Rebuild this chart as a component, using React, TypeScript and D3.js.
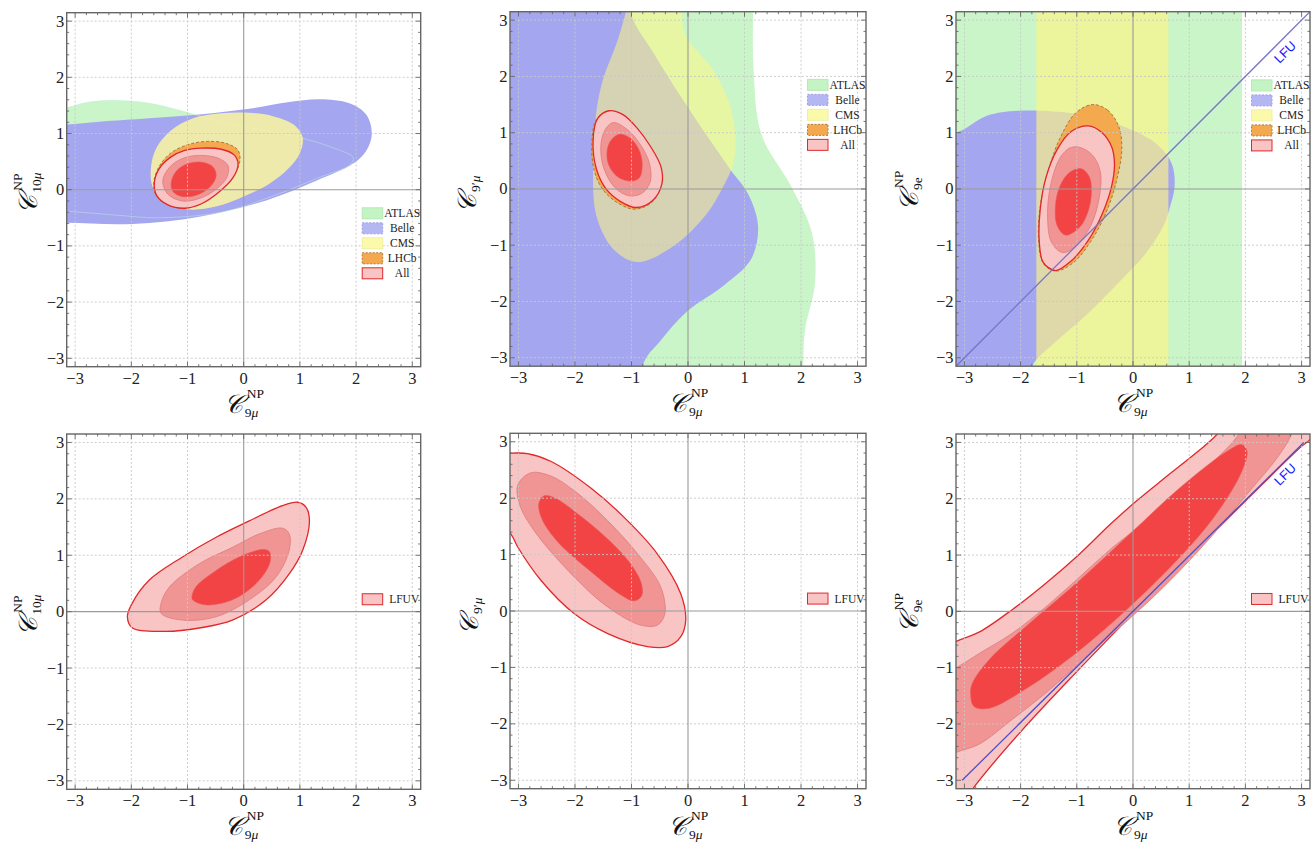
import React from 'react';
import * as d3 from 'd3';

type Pt = [number, number];

// ---------- axes / labels ----------
const DOMAIN: [number, number] = [-3.15, 3.15];
const majorTicks = [-3, -2, -1, 0, 1, 2, 3];
const minorTicks = d3.range(-30, 31, 2).map((v) => v / 10).filter((v) => Math.abs(v - Math.round(v)) > 1e-6);
const expLegend = ['ATLAS', 'Belle', 'CMS', 'LHCb', 'All'];
const lfuvLegend = ['LFUV'];
const lfuText = 'LFU';

// ---------- panel 1 : C9mu vs C10mu (experiments) ----------
const p1Atlas: Pt[] = [[-4, 1.4], [-3.16, 1.46], [-2.8, 1.55], [-2.39, 1.59], [-1.68, 1.54], [-1.09, 1.4], [-0.67, 1.28], [-0.2, 1.16], [0.4, 1.05], [0.99, 0.93], [1.58, 0.75], [1.95, 0.57], [1.9, 0.45], [1.3, 0.2], [0.5, -0.12], [-0.4, -0.4], [-1.5, -0.5], [-2.3, -0.45], [-3.16, -0.38], [-4, -0.33]];
const p1Belle: Pt[] = [[-4, 1.13], [-3.16, 1.16], [-2.57, 1.21], [-1.68, 1.27], [-0.79, 1.34], [0.1, 1.44], [0.81, 1.56], [1.35, 1.61], [1.88, 1.54], [2.18, 1.34], [2.28, 0.99], [2.18, 0.69], [1.94, 0.46], [1.29, 0.16], [0.4, -0.19], [-0.79, -0.48], [-1.98, -0.61], [-3.16, -0.59], [-4, -0.57]];
const p1Cms: Pt[] = [[-1.65, 0.4], [-1.55, 0.75], [-1.3, 1.05], [-0.9, 1.27], [-0.4, 1.36], [0.1, 1.37], [0.55, 1.3], [0.9, 1.15], [1.05, 0.93], [1.0, 0.65], [0.8, 0.38], [0.45, 0.1], [0.0, -0.12], [-0.5, -0.3], [-1.0, -0.35], [-1.4, -0.22], [-1.62, 0.05]];
const p1Lhcb: Pt[] = [[-1.6, 0.13], [-1.5, 0.42], [-1.3, 0.65], [-1.0, 0.8], [-0.65, 0.86], [-0.3, 0.82], [-0.1, 0.7], [-0.07, 0.5], [-0.2, 0.22], [-0.45, -0.04], [-0.75, -0.24], [-1.05, -0.33], [-1.35, -0.27], [-1.56, -0.1]];
const p1All1: Pt[] = [[-1.59, 0.13], [-1.5, 0.38], [-1.3, 0.58], [-1.05, 0.7], [-0.75, 0.74], [-0.4, 0.72], [-0.17, 0.62], [-0.1, 0.45], [-0.2, 0.2], [-0.45, -0.05], [-0.75, -0.25], [-1.05, -0.33], [-1.35, -0.27], [-1.55, -0.1]];
const p1All2: Pt[] = [[-1.44, 0.16], [-1.3, 0.42], [-1.05, 0.57], [-0.75, 0.61], [-0.45, 0.56], [-0.28, 0.43], [-0.3, 0.22], [-0.5, 0.0], [-0.8, -0.16], [-1.1, -0.2], [-1.35, -0.08]];
const p1All3: Pt[] = [[-1.29, 0.13], [-1.2, 0.33], [-1.0, 0.46], [-0.75, 0.49], [-0.55, 0.41], [-0.49, 0.25], [-0.6, 0.05], [-0.85, -0.1], [-1.1, -0.12], [-1.26, -0.03]];

// ---------- panel 2 : C9mu vs C9'mu (experiments) ----------
const p2Atlas: Pt[] = [[-4, 4], [1.15, 4], [1.15, 3.15], [1.16, 2.14], [1.3, 0.97], [1.83, 0.04], [2.19, -0.77], [2.25, -1.65], [2.07, -2.52], [2.04, -3.15], [2.04, -4], [-4, -4]];
const p2Belle: Pt[] = [[-4, 4], [-1.0, 4], [-1.02, 3.15], [-0.6, 2.4], [-0.1, 1.6], [0.4, 0.85], [0.76, 0.33], [1.06, -0.08], [1.24, -0.66], [1.12, -1.24], [0.64, -1.71], [-0.01, -2.17], [-0.49, -2.7], [-0.78, -3.08], [-0.9, -4], [-4, -4]];
const p2Cms: Pt[] = [[-1.1, 3.15], [-1.0, 3.7], [-0.2, 3.7], [-0.05, 2.75], [0.42, 2.15], [0.72, 1.56], [0.84, 0.95], [0.8, 0.45], [0.6, 0.0], [0.34, -0.43], [-0.25, -1.01], [-0.9, -1.3], [-1.32, -1.07], [-1.62, -0.48], [-1.68, 0.39], [-1.62, 1.38], [-1.5, 1.96], [-1.26, 2.6]];
const p2Lhcb: Pt[] = [[-1.42, 1.37], [-1.17, 1.3], [-0.92, 1.06], [-0.68, 0.72], [-0.5, 0.37], [-0.48, 0.07], [-0.64, -0.24], [-0.95, -0.36], [-1.24, -0.25], [-1.5, -0.02], [-1.66, 0.33], [-1.7, 0.84], [-1.62, 1.24]];
const p2All1: Pt[] = [[-1.4, 1.39], [-1.15, 1.32], [-0.9, 1.08], [-0.66, 0.75], [-0.48, 0.4], [-0.46, 0.1], [-0.62, -0.2], [-0.92, -0.33], [-1.2, -0.22], [-1.45, 0.0], [-1.62, 0.35], [-1.68, 0.85], [-1.6, 1.25]];
const p2All2: Pt[] = [[-1.32, 1.18], [-1.08, 1.06], [-0.85, 0.8], [-0.68, 0.45], [-0.67, 0.12], [-0.82, -0.08], [-1.05, -0.12], [-1.3, 0.03], [-1.5, 0.4], [-1.54, 0.8], [-1.45, 1.08]];
const p2All3: Pt[] = [[-1.22, 0.97], [-1.02, 0.9], [-0.86, 0.68], [-0.81, 0.42], [-0.86, 0.2], [-1.02, 0.14], [-1.25, 0.22], [-1.42, 0.48], [-1.4, 0.8]];

// ---------- panel 3 : C9mu vs C9e (experiments) ----------
const p3Atlas: Pt[] = [[-4, -4], [1.94, -4], [1.94, 4], [-4, 4]];
const p3Cms: Pt[] = [[-1.72, -4], [0.63, -4], [0.63, 4], [-1.72, 4]];
const p3Belle: Pt[] = [[-4, 0.97], [-3.15, 1.0], [-2.6, 1.3], [-2.03, 1.39], [-1.19, 1.36], [-0.66, 1.27], [-0.12, 1.09], [0.42, 0.8], [0.69, 0.45], [0.74, 0.04], [0.66, -0.31], [0.54, -0.66], [0.24, -1.13], [-0.24, -1.65], [-0.83, -2.24], [-1.37, -2.71], [-1.8, -3.15], [-2.0, -4], [-4, -4]];
const p3Lhcb: Pt[] = [[-0.72, 1.5], [-0.45, 1.4], [-0.25, 1.1], [-0.2, 0.7], [-0.28, 0.2], [-0.45, -0.35], [-0.7, -0.85], [-1.05, -1.3], [-1.38, -1.46], [-1.6, -1.32], [-1.68, -0.9], [-1.65, -0.3], [-1.5, 0.35], [-1.3, 0.9], [-1.02, 1.35]];
const p3All1: Pt[] = [[-0.8, 1.12], [-0.55, 1.0], [-0.38, 0.75], [-0.33, 0.45], [-0.38, 0.05], [-0.55, -0.45], [-0.8, -0.92], [-1.1, -1.28], [-1.38, -1.45], [-1.6, -1.3], [-1.67, -0.9], [-1.65, -0.35], [-1.55, 0.2], [-1.35, 0.7], [-1.1, 1.02]];
const p3All2: Pt[] = [[-0.95, 0.74], [-0.72, 0.6], [-0.58, 0.3], [-0.6, -0.15], [-0.75, -0.65], [-1.0, -1.0], [-1.25, -1.13], [-1.45, -0.95], [-1.52, -0.5], [-1.47, 0.05], [-1.3, 0.55], [-1.12, 0.73]];
const p3All3: Pt[] = [[-0.92, 0.36], [-0.78, 0.22], [-0.74, -0.05], [-0.8, -0.4], [-0.95, -0.68], [-1.2, -0.82], [-1.35, -0.65], [-1.38, -0.3], [-1.3, 0.05], [-1.12, 0.3]];

// ---------- panel 4 : LFUV C9mu vs C10mu ----------
const p4Lfuv1: Pt[] = [[-2.07, -0.09], [-1.98, -0.29], [-1.38, -0.35], [-0.79, -0.29], [-0.2, -0.15], [0.4, 0.21], [0.81, 0.67], [1.05, 1.09], [1.17, 1.61], [1.11, 1.85], [0.96, 1.94], [0.69, 1.88], [0.1, 1.61], [-0.49, 1.32], [-1.09, 0.97], [-1.68, 0.56], [-2.0, 0.12]];
const p4Lfuv2: Pt[] = [[-1.47, -0.03], [-1.09, -0.15], [-0.49, -0.09], [0.1, 0.21], [0.58, 0.62], [0.81, 1.09], [0.81, 1.38], [0.69, 1.48], [0.28, 1.38], [-0.2, 1.14], [-0.79, 0.85], [-1.32, 0.44], [-1.47, 0.15]];
const p4Lfuv3: Pt[] = [[-0.91, 0.21], [-0.67, 0.12], [-0.2, 0.21], [0.22, 0.5], [0.46, 0.85], [0.46, 1.06], [0.34, 1.1], [-0.08, 0.97], [-0.49, 0.73], [-0.85, 0.44], [-0.92, 0.27]];

// ---------- panel 5 : LFUV C9mu vs C9'mu ----------
const p5Lfuv1: Pt[] = [[-3.6, 2.8], [-3.13, 2.8], [-2.84, 2.79], [-2.42, 2.65], [-1.72, 2.18], [-1.13, 1.66], [-0.54, 1.01], [-0.13, 0.31], [-0.04, -0.16], [-0.13, -0.46], [-0.36, -0.63], [-0.72, -0.63], [-1.42, -0.4], [-2.01, -0.05], [-2.6, 0.54], [-3.01, 1.13], [-3.13, 1.36], [-3.6, 1.9]];
const p5Lfuv2: Pt[] = [[-2.78, 2.45], [-2.42, 2.39], [-2.01, 2.13], [-1.42, 1.6], [-0.84, 0.95], [-0.48, 0.42], [-0.41, -0.05], [-0.54, -0.25], [-0.84, -0.25], [-1.42, 0.07], [-2.01, 0.6], [-2.72, 1.42], [-2.98, 1.89], [-3.01, 2.24]];
const p5Lfuv3: Pt[] = [[-2.55, 2.04], [-2.35, 2.0], [-1.95, 1.72], [-1.48, 1.33], [-1.05, 0.88], [-0.83, 0.5], [-0.82, 0.27], [-0.95, 0.18], [-1.18, 0.28], [-1.72, 0.7], [-2.3, 1.22], [-2.58, 1.62], [-2.64, 1.9]];

// ---------- panel 6 : LFUV C9mu vs C9e ----------
const p6Lfuv1: Pt[] = [[-4, -1.05], [-3.16, -0.54], [-2.74, -0.37], [-2.15, 0.03], [-1.55, 0.5], [-0.95, 1.02], [-0.4, 1.55], [0.05, 1.95], [0.54, 2.35], [1.13, 2.82], [1.5, 3.15], [1.9, 3.7], [3.7, 3.7], [3.15, 3.05], [3.0, 2.93], [2.0, 1.96], [1.0, 0.97], [0, -0.04], [-1.0, -1.07], [-2.0, -2.14], [-2.85, -3.15], [-3.2, -3.7], [-4, -3.7]];
const p6Lfuv2: Pt[] = [[-4, -1.45], [-3.16, -1.01], [-2.74, -0.75], [-2.15, -0.39], [-1.55, 0.08], [-0.95, 0.61], [-0.36, 1.14], [0.24, 1.61], [0.83, 2.14], [1.43, 2.66], [1.85, 3.1], [2.2, 3.7], [3.0, 3.7], [2.8, 3.1], [2.56, 2.72], [2.03, 2.08], [1.43, 1.37], [0.83, 0.72], [0.24, 0.14], [-0.36, -0.39], [-0.95, -0.92], [-1.55, -1.45], [-2.15, -1.92], [-2.74, -2.36], [-3.16, -2.51], [-4, -2.9]];
const p6Lfuv3: Pt[] = [[-2.89, -1.45], [-2.83, -1.69], [-2.56, -1.72], [-1.85, -1.34], [-0.95, -0.69], [-0.06, 0.08], [0.83, 0.96], [1.43, 1.66], [1.91, 2.43], [2.03, 2.84], [1.94, 2.96], [1.67, 2.84], [0.83, 2.19], [-0.06, 1.37], [-0.95, 0.55], [-1.85, -0.22], [-2.56, -0.86], [-2.86, -1.28]];

// LFU reference line (C9e = C9mu) end points
const lfuLineFull: Pt[] = [[-3.15, -3.15], [3.15, 3.15]];
const lfuLineShort: Pt[] = [[-3.04, -3.0], [3.04, 3.0]];
const lfuLabelPos: Pt = [2.72, 2.42];

// ---------- styles ----------
const C_ATLAS = '#c9f5c9';
const C_BELLE = '#a4a7ef';
const C_CMS = '#fff584';
const C_LHCB = '#f4a94f';
const C_ALL1 = '#f9c4c4';
const C_ALL2 = '#f19494';
const C_ALL3 = '#f24444';
const SERIF = "'Liberation Serif', 'DejaVu Serif', 'Times New Roman', serif";

interface Region {
  pts: Pt[];
  fill: string;
  opacity?: number;
  stroke?: string;
  sw?: number;
  dash?: string;
  linear?: boolean;
  noFill?: boolean;
}

interface PanelCfg {
  left: number;
  top: number;
  w: number;
  h: number;
  regions: Region[];
  yLabel: { sup?: string; sub: string };
  yLabelOff: number;
  legend: 'exp' | 'lfuv';
  legendY: number;
  lfuLine?: Pt[];
  lfuColor?: string;
}

const allLevels = (a: Pt[], b: Pt[], c: Pt[]): Region[] => [
  { pts: a, fill: C_ALL1, stroke: '#e0282a', sw: 1.3 },
  { pts: b, fill: C_ALL2, stroke: '#dd7c7c', sw: 0.8 },
  { pts: c, fill: C_ALL3, stroke: '#e45a5a', sw: 0.6 },
];

const panels: PanelCfg[] = [
  {
    left: 66.7, top: 12.7, w: 354, h: 354,
    regions: [
      { pts: p1Atlas, fill: C_ATLAS },
      { pts: p1Belle, fill: C_BELLE },
      { pts: p1Atlas, fill: 'none', noFill: true, stroke: '#c6eedc', sw: 1, opacity: 0.45 },
      { pts: p1Cms, fill: '#fbf6a0', opacity: 0.85 },
      { pts: p1Lhcb, fill: C_LHCB, stroke: '#a9773f', sw: 1, dash: '3,2' },
      ...allLevels(p1All1, p1All2, p1All3),
    ],
    yLabel: { sup: 'NP', sub: '10' },
    yLabelOff: 30,
    legend: 'exp',
    legendY: -0.42,
  },
  {
    left: 510, top: 11.7, w: 356, h: 354.5,
    regions: [
      { pts: p2Atlas, fill: C_ATLAS },
      { pts: p2Belle, fill: C_BELLE },
      { pts: p2Cms, fill: C_CMS, opacity: 0.55 },
      { pts: p2Lhcb, fill: C_LHCB, stroke: '#a9773f', sw: 1, dash: '3,2' },
      ...allLevels(p2All1, p2All2, p2All3),
    ],
    yLabel: { sub: "9′" },
    yLabelOff: 34,
    legend: 'exp',
    legendY: 1.85,
  },
  {
    left: 956, top: 11.7, w: 354, h: 354.5,
    regions: [
      { pts: p3Atlas, fill: C_ATLAS, linear: true },
      { pts: p3Belle, fill: C_BELLE },
      { pts: p3Cms, fill: C_CMS, opacity: 0.65, linear: true },
      { pts: p3Lhcb, fill: C_LHCB, stroke: '#a9773f', sw: 1, dash: '3,2' },
      ...allLevels(p3All1, p3All2, p3All3),
    ],
    yLabel: { sup: 'NP', sub: '9e' },
    yLabelOff: 38,
    legend: 'exp',
    legendY: 1.84,
    lfuLine: lfuLineFull,
    lfuColor: '#7474cc',
  },
  {
    left: 66.7, top: 434, w: 354, h: 355.3,
    regions: allLevels(p4Lfuv1, p4Lfuv2, p4Lfuv3),
    yLabel: { sup: 'NP', sub: '10' },
    yLabelOff: 30,
    legend: 'lfuv',
    legendY: 0.22,
  },
  {
    left: 510, top: 433.3, w: 356, h: 355.4,
    regions: allLevels(p5Lfuv1, p5Lfuv2, p5Lfuv3),
    yLabel: { sub: "9′" },
    yLabelOff: 32,
    legend: 'lfuv',
    legendY: 0.22,
  },
  {
    left: 956, top: 434, w: 354, h: 354.7,
    regions: allLevels(p6Lfuv1, p6Lfuv2, p6Lfuv3),
    yLabel: { sup: 'NP', sub: '9e' },
    yLabelOff: 38,
    legend: 'lfuv',
    legendY: 0.22,
    lfuLine: lfuLineShort,
    lfuColor: '#4f4fc8',
  },
];

function MathLabel({ sup, sub, muSub }: { sup?: string; sub: string; muSub: boolean }) {
  const cW = 22;
  const scriptLen = Math.max(sup ? sup.length * 9 : 0, sub.length * 7 + (muSub ? 8 : 0));
  const W = cW + scriptLen;
  const x0 = -W / 2;
  return (
    <g fontFamily={SERIF} fill="#111">
      <text x={x0} y={0} fontSize={26} fontStyle="italic">𝒞</text>
      {sup && <text x={x0 + cW + 1} y={-15} fontSize={13.5}>{sup}</text>}
      <text x={x0 + cW - 1} y={4} fontSize={13.5}>
        {sub}
        {muSub && <tspan fontStyle="italic">μ</tspan>}
      </text>
    </g>
  );
}

function Panel({ cfg, idx }: { cfg: PanelCfg; idx: number }) {
  const { left, top, w, h } = cfg;
  const x = d3.scaleLinear().domain(DOMAIN).range([left, left + w]);
  const y = d3.scaleLinear().domain(DOMAIN).range([top + h, top]);
  const smooth = d3.line<Pt>().x((d) => x(d[0])).y((d) => y(d[1])).curve(d3.curveCatmullRomClosed.alpha(0.5));
  const linear = d3.line<Pt>().x((d) => x(d[0])).y((d) => y(d[1])).curve(d3.curveLinearClosed);
  const seg = d3.line<Pt>().x((d) => x(d[0])).y((d) => y(d[1]));
  const clipId = `clip-${idx}`;
  const right = left + w;
  const bottom = top + h;
  const muSubY = !cfg.yLabel.sub.includes('e');

  const legendRows = cfg.legend === 'exp' ? expLegend : lfuvLegend;
  const legX = right - 58.5;
  const legY0 = y(cfg.legendY);
  const swatch = (name: string) => {
    switch (name) {
      case 'ATLAS': return { fill: '#c4f3c4', stroke: '#b5eab5', dash: undefined };
      case 'Belle': return { fill: '#b5b7f3', stroke: '#9d9fe6', dash: '2,1.5' };
      case 'CMS': return { fill: '#fbfaab', stroke: '#f0f0a0', dash: undefined };
      case 'LHCb': return { fill: C_LHCB, stroke: '#b07a3a', dash: '2,1.5' };
      default: return { fill: C_ALL1, stroke: '#e0282a', dash: undefined };
    }
  };

  return (
    <g>
      <defs>
        <clipPath id={clipId}>
          <rect x={left} y={top} width={w} height={h} />
        </clipPath>
      </defs>
      <rect x={left} y={top} width={w} height={h} fill="#fff" />
      <g clipPath={`url(#${clipId})`}>
        {cfg.regions.map((r, i) => (
          <path
            key={i}
            d={(r.linear ? linear : smooth)(r.pts) || ''}
            fill={r.noFill ? 'none' : r.fill}
            fillOpacity={r.noFill ? undefined : r.opacity ?? 1}
            stroke={r.stroke || 'none'}
            strokeWidth={r.sw || 0}
            strokeDasharray={r.dash}
            strokeOpacity={r.noFill ? r.opacity : 1}
          />
        ))}
        {/* grid */}
        {majorTicks.filter((t) => t !== 0).map((t) => (
          <g key={`g${t}`} stroke="#c8c8c8" strokeWidth={0.9} strokeDasharray="2,2">
            <line x1={x(t)} x2={x(t)} y1={top} y2={bottom} />
            <line x1={left} x2={right} y1={y(t)} y2={y(t)} />
          </g>
        ))}
        <line x1={x(0)} x2={x(0)} y1={top} y2={bottom} stroke="#9a9a9a" strokeWidth={1.1} />
        <line x1={left} x2={right} y1={y(0)} y2={y(0)} stroke="#9a9a9a" strokeWidth={1.1} />
        {cfg.lfuLine && (
          <path d={seg(cfg.lfuLine) || ''} stroke={cfg.lfuColor} strokeWidth={1.3} fill="none" />
        )}
      </g>
      {cfg.lfuLine && (
        <text
          x={x(lfuLabelPos[0])}
          y={y(lfuLabelPos[1])}
          transform={`rotate(-45 ${x(lfuLabelPos[0])} ${y(lfuLabelPos[1])})`}
          fontFamily="'Liberation Sans', Arial, sans-serif"
          fontSize={13}
          fill="#1818ff"
          textAnchor="middle"
          dominantBaseline="middle"
        >
          {lfuText}
        </text>
      )}
      {/* frame */}
      <rect x={left} y={top} width={w} height={h} fill="none" stroke="#666" strokeWidth={1.4} />
      <g stroke="#666" strokeWidth={0.9}>
        {majorTicks.map((t) => (
          <g key={`t${t}`}>
            <line x1={x(t)} x2={x(t)} y1={bottom} y2={bottom - 5} />
            <line x1={x(t)} x2={x(t)} y1={top} y2={top + 5} />
            <line x1={left} x2={left + 5} y1={y(t)} y2={y(t)} />
            <line x1={right} x2={right - 5} y1={y(t)} y2={y(t)} />
          </g>
        ))}
        {minorTicks.map((t) => (
          <g key={`m${t}`}>
            <line x1={x(t)} x2={x(t)} y1={bottom} y2={bottom - 2.5} />
            <line x1={x(t)} x2={x(t)} y1={top} y2={top + 2.5} />
            <line x1={left} x2={left + 2.5} y1={y(t)} y2={y(t)} />
            <line x1={right} x2={right - 2.5} y1={y(t)} y2={y(t)} />
          </g>
        ))}
      </g>
      {/* tick labels */}
      <g fontFamily={SERIF} fontSize={16.5} fill="#222">
        {majorTicks.map((t) => (
          <text key={`xl${t}`} x={x(t)} y={bottom + 17} textAnchor="middle">
            {t < 0 ? `−${-t}` : `${t}`}
          </text>
        ))}
        {majorTicks.map((t) => (
          <text key={`yl${t}`} x={left - 2.5} y={y(t) + 5.5} textAnchor="end">
            {t < 0 ? `−${-t}` : `${t}`}
          </text>
        ))}
      </g>
      {/* x label */}
      <g transform={`translate(${(left + right) / 2},${bottom + 46})`}>
        <MathLabel sup="NP" sub="9" muSub={true} />
      </g>
      {/* y label */}
      <g transform={`translate(${left - cfg.yLabelOff},${(top + bottom) / 2 + 2}) rotate(-90)`}>
        <MathLabel sup={cfg.yLabel.sup} sub={cfg.yLabel.sub} muSub={muSubY} />
      </g>
      {/* legend */}
      <g fontFamily={SERIF} fontSize={11.5} fill="#222">
        {legendRows.map((name, i) => {
          const s = swatch(name);
          const cy = legY0 + i * 15;
          return (
            <g key={name}>
              <rect x={legX} y={cy - 5.5} width={20.5} height={11} fill={s.fill} stroke={s.stroke} strokeWidth={1} strokeDasharray={s.dash} />
              <text x={cfg.legend === 'exp' ? legX + 40 : legX + 27} y={cy + 4} textAnchor={cfg.legend === 'exp' ? 'middle' : 'start'}>
                {name}
              </text>
            </g>
          );
        })}
      </g>
    </g>
  );
}

export default function App() {
  return (
    <svg width={1315} height={842} style={{ position: 'absolute', left: 0, top: 0, background: '#fff' }}>
      {panels.map((p, i) => (
        <Panel key={i} cfg={p} idx={i} />
      ))}
    </svg>
  );
}
